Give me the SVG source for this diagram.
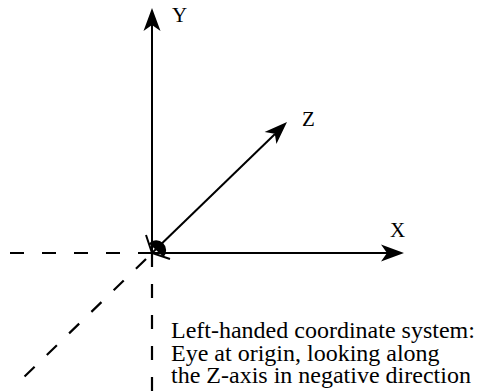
<svg xmlns="http://www.w3.org/2000/svg" width="482" height="391" viewBox="0 0 482 391">
<style>
.axis{stroke:#000;stroke-width:2;fill:none}
.dash{stroke:#000;stroke-width:2.2;fill:none}
.lbl{font-family:"Liberation Serif","Times New Roman",serif;font-size:21px;fill:#000}
.cap{font-family:"Liberation Serif","Times New Roman",serif;font-size:24px;fill:#000}
</style>
<defs>
<marker id="arr" markerUnits="userSpaceOnUse" markerWidth="30" markerHeight="30" refX="0" refY="0" viewBox="-25 -12 30 24" orient="auto" overflow="visible">
<path d="M0,0 L-23,-8.5 L-17,0 L-23,8.5 Z" fill="#000"/>
</marker>
</defs>
<rect width="482" height="391" fill="#fff"/>
<g id="connectors">
<path class="dash" d="M152,253 L10,253" stroke-dasharray="14 18"/>
<path class="dash" d="M152,253 L152,391" stroke-dasharray="14 17"/>
<path class="dash" d="M146,259 L23,378" stroke-dasharray="14 17"/>
<path class="axis" d="M152,253 L152,24"/>
<path class="axis" d="M152,253 L388,253"/>
<path class="axis" d="M152,253 L275,134"/>
<path d="M152,253 L152,8" stroke="none" fill="none" marker-end="url(#arr)"/>
<path d="M152,253 L404,253" stroke="none" fill="none" marker-end="url(#arr)"/>
<path d="M152,253 L287,122" stroke="none" fill="none" marker-end="url(#arr)"/>
</g>
<g id="eye">
<path class="axis" d="M146,235 L152,253 L170,259"/>
<path d="M149,243.5 A9.5,9.5 0 0 1 163.5,257 Z" fill="#000"/>
</g>
<g id="y-label"><text class="lbl" x="172" y="22">Y</text></g>
<g id="x-label"><text class="lbl" x="390" y="237">X</text></g>
<g id="z-label"><text class="lbl" x="302" y="126">Z</text></g>
<g id="caption">
<text class="cap" x="171" y="338">Left-handed coordinate system:</text>
<text class="cap" x="171" y="360.5">Eye at origin, looking along</text>
<text class="cap" x="171" y="383">the Z-axis in negative direction</text>
</g>
</svg>
